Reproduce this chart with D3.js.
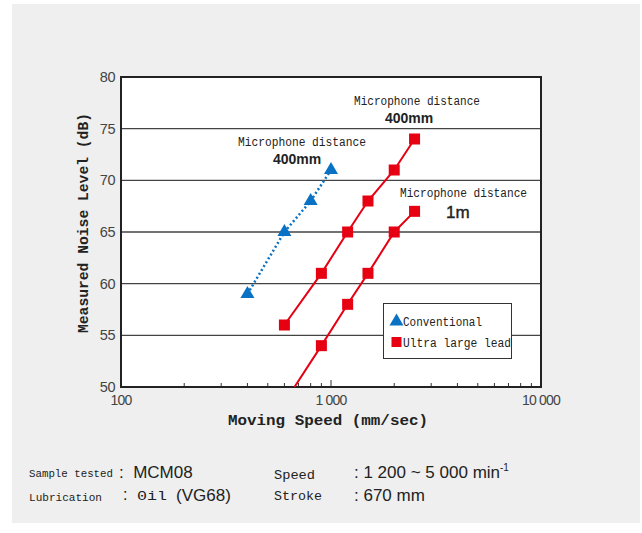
<!DOCTYPE html>
<html>
<head>
<meta charset="utf-8">
<script src="https://cdn.jsdelivr.net/npm/d3@7"></script>
<style>
  body { margin: 0; background: #fff; }
  svg { display: block; }
</style>
</head>
<body>
<svg id="chart" width="642" height="533"></svg>
<script>
// data
const conventional = [[400, 59], [600, 65], [800, 68], [1000, 71]]
const ultra400 = [[600, 56], [900, 61], [1200, 65], [1500, 68], [2000, 71], [2500, 74]]
const ultra1m = [[600, 48.5], [900, 54], [1200, 58], [1500, 61], [2000, 65], [2500, 67]]
const yTicks = [50, 55, 60, 65, 70, 75, 80]
const xTicks = [100, 1000, 10000]
const xTickLabels = ["100", "1 000", "10 000"]

const mono = "'Liberation Mono', 'DejaVu Sans Mono', monospace"
const sans = "'Liberation Sans', Arial, sans-serif"
const red = "#e60012", blue = "#0a72c4"

let svg = d3.select("#chart")
svg.append("rect").attr("x", 12).attr("y", 4).attr("width", 628).attr("height", 519).attr("fill", "#eeefee")

let x = d3.scaleLog().domain([100, 10000]).range([121, 541])
let y = d3.scaleLinear().domain([50, 80]).range([387, 77])

svg.append("defs").append("clipPath").attr("id", "plotclip")
    .append("rect").attr("x", 121).attr("y", 77).attr("width", 420).attr("height", 310)

svg.append("rect").attr("x", 121).attr("y", 77).attr("width", 420).attr("height", 310).attr("fill", "#fff")

// horizontal grid
svg.append("g").selectAll("line").data(yTicks.slice(1, -1)).enter().append("line")
    .attr("x1", 121).attr("x2", 541)
    .attr("y1", d => y(d)).attr("y2", d => y(d))
    .attr("stroke", "#444").attr("stroke-width", 1.3)

// minor ticks along bottom
let minor = []
for (let dec = 100; dec < 10000; dec *= 10) {
    for (let k = 2; k <= 9; k++) minor.push(dec * k)
}
svg.append("g").selectAll("line").data(minor).enter().append("line")
    .attr("x1", d => x(d)).attr("x2", d => x(d))
    .attr("y1", 387).attr("y2", 383)
    .attr("stroke", "#333").attr("stroke-width", 1)
svg.append("line").attr("x1", x(1000)).attr("x2", x(1000)).attr("y1", 387).attr("y2", 380)
    .attr("stroke", "#333").attr("stroke-width", 1)

// frame
svg.append("rect").attr("x", 121).attr("y", 77).attr("width", 420).attr("height", 310)
    .attr("fill", "none").attr("stroke", "#222").attr("stroke-width", 2)

// tick labels
svg.append("g").selectAll("text").data(yTicks).enter().append("text")
    .attr("x", 115).attr("y", d => y(d) + 5)
    .attr("text-anchor", "end")
    .attr("font-family", sans).attr("font-size", 14.5).attr("fill", "#444")
    .attr("letter-spacing", -0.5)
    .text(d => d)
svg.append("g").selectAll("text").data(xTicks).enter().append("text")
    .attr("x", d => x(d)).attr("y", 405)
    .attr("text-anchor", "middle")
    .attr("font-family", sans).attr("font-size", 14).attr("fill", "#444")
    .attr("letter-spacing", -0.8)
    .text((d, i) => xTickLabels[i])

// axis titles
svg.append("text").attr("x", 228).attr("y", 425)
    .attr("font-family", mono).attr("font-weight", "bold").attr("font-size", 14).attr("fill", "#222")
    .attr("textLength", 200).attr("lengthAdjust", "spacingAndGlyphs")
    .text("Moving Speed (mm/sec)")
svg.append("text").attr("transform", "translate(88,333) rotate(-90)")
    .attr("font-family", mono).attr("font-weight", "bold").attr("font-size", 14).attr("fill", "#222")
    .attr("textLength", 220).attr("lengthAdjust", "spacingAndGlyphs")
    .text("Measured Noise Level (dB)")

// series
let line = d3.line().x(d => x(d[0])).y(d => y(d[1]))
let plot = svg.append("g").attr("clip-path", "url(#plotclip)")

plot.append("path").datum(conventional).attr("d", line)
    .attr("fill", "none").attr("stroke", blue).attr("stroke-width", 2.5)
    .attr("stroke-dasharray", "2,2.5")
;[ultra400, ultra1m].forEach(s => {
    plot.append("path").datum(s).attr("d", line)
        .attr("fill", "none").attr("stroke", red).attr("stroke-width", 2)
    plot.append("g").selectAll("rect").data(s).enter().append("rect")
        .attr("x", d => x(d[0]) - 5.5).attr("y", d => y(d[1]) - 5.5)
        .attr("width", 11).attr("height", 11).attr("fill", red)
})
let tri = d3.symbol().type(d3.symbolTriangle).size(85)
plot.append("g").selectAll("path").data(conventional).enter().append("path")
    .attr("d", tri)
    .attr("transform", d => `translate(${x(d[0])},${y(d[1])})`)
    .attr("fill", blue)

// annotations
function monoText(tx, ty, txt, len, size) {
    svg.append("text").attr("x", tx).attr("y", ty)
        .attr("font-family", mono).attr("font-size", size || 12).attr("fill", "#222")
        .attr("textLength", len).attr("lengthAdjust", "spacingAndGlyphs")
        .text(txt)
}
monoText(238, 146, "Microphone distance", 128)
monoText(354, 105, "Microphone distance", 126)
monoText(400, 197, "Microphone distance", 127)
svg.append("text").attr("x", 273).attr("y", 164).attr("font-family", sans).attr("font-weight", "bold")
    .attr("font-size", 14).attr("fill", "#222").text("400mm")
svg.append("text").attr("x", 385).attr("y", 123).attr("font-family", sans).attr("font-weight", "bold")
    .attr("font-size", 14).attr("fill", "#222").text("400mm")
svg.append("text").attr("x", 446).attr("y", 218).attr("font-family", sans)
    .attr("font-size", 17).attr("fill", "#222").attr("stroke", "#222").attr("stroke-width", 0.4)
    .text("1m")

// legend
svg.append("rect").attr("x", 383.5).attr("y", 303.5).attr("width", 128).attr("height", 55)
    .attr("fill", "#fff").attr("stroke", "#333").attr("stroke-width", 1)
svg.append("path").attr("d", tri).attr("transform", "translate(396.5,321.5)").attr("fill", blue)
svg.append("rect").attr("x", 391.5).attr("y", 337).attr("width", 10).attr("height", 10).attr("fill", red)
monoText(403, 326, "Conventional", 79)
monoText(403, 346.5, "Ultra large lead", 108)

// test conditions
monoText(29, 477, "Sample tested", 84, 11)
monoText(29, 501, "Lubrication", 73, 11)
monoText(274, 479, "Speed", 41, 13)
monoText(274, 500, "Stroke", 48, 13)
monoText(137, 500, "0il", 30, 13)
svg.append("text").attr("x", 119).attr("y", 478).attr("font-family", sans).attr("font-size", 17)
    .attr("fill", "#222").attr("xml:space", "preserve").text(":  MCM08")
svg.append("text").attr("x", 123).attr("y", 500).attr("font-family", sans).attr("font-size", 16)
    .attr("fill", "#222").text(":")
svg.append("text").attr("x", 176).attr("y", 501).attr("font-family", sans).attr("font-size", 17)
    .attr("fill", "#222").text("(VG68)")
let sp = svg.append("text").attr("x", 354).attr("y", 478).attr("font-family", sans).attr("font-size", 17)
    .attr("fill", "#222")
sp.append("tspan").text(": 1 200 ~ 5 000 min")
sp.append("tspan").attr("font-size", 10).attr("dy", -7).text("-1")
svg.append("text").attr("x", 354).attr("y", 501).attr("font-family", sans).attr("font-size", 17)
    .attr("fill", "#222").text(": 670 mm")
</script>
</body>
</html>
